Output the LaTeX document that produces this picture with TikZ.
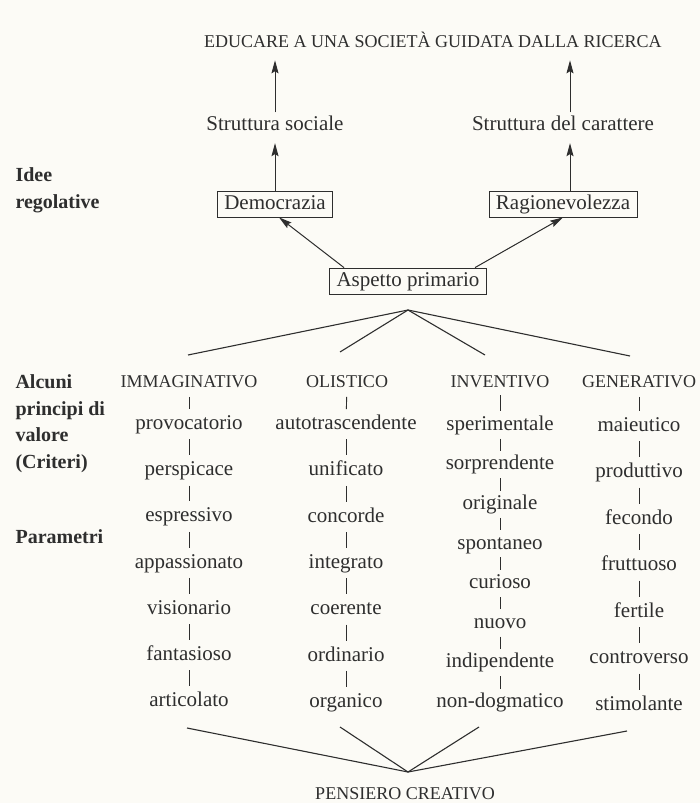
\documentclass[tikz,border=0pt]{standalone}
\usepackage{fontspec}
\setmainfont{Liberation Serif}
\usetikzlibrary{arrows.meta}
\definecolor{paper}{HTML}{FCFBF6}
\definecolor{ink}{HTML}{2E2E2E}
\tikzset{
  word/.style={font=\fontsize{21}{24}\selectfont, text height=14.7pt, text depth=4.2pt, inner sep=3pt},
  caps/.style={font=\fontsize{18}{21}\selectfont, text height=12.6pt, text depth=3.6pt, inner sep=3pt},
  box/.style={word, draw=ink, line width=0.9pt, inner xsep=7pt, inner ysep=3.5pt},
  sidenote/.style={font=\bfseries\fontsize{20}{26.5}\selectfont, align=left, anchor=base west},
  arr/.style={draw=ink, line width=1pt, -{Stealth[length=13pt, width=7pt, inset=2pt]}},
  fan/.style={draw=ink, line width=1.1pt},
  bar/.style={draw=ink, line width=0.9pt, shorten <=2.5pt, shorten >=2.5pt}
}
\begin{document}
\begin{tikzpicture}[x=1pt, y=-1pt, every node/.style={text=ink}]
  \fill[paper] (0,0) rectangle (700,803);
  \useasboundingbox (0,0) rectangle (700,803);

  \node[caps] (goal) at (433,43) {EDUCARE A UNA SOCIETÀ GUIDATA DALLA RICERCA};
  \node[word] (soc) at (275,125) {Struttura sociale};
  \node[word] (car) at (563,125) {Struttura del carattere};
  \node[box] (dem) at (275,204) {Democrazia};
  \node[box] (rag) at (563,204) {Ragionevolezza};
  \node[box] (asp) at (408,281) {Aspetto primario};

  \node[sidenote] (idee) at (12,208) {Idee\\regolative};
  \node[sidenote] (crit) at (12,468) {Alcuni\\principi di\\valore\\(Criteri)};
  \node[sidenote] (param) at (12,543) {Parametri};

  \draw[arr, shorten >=6pt] (soc.north) -- (soc.north |- goal.south);
  \draw[arr, shorten >=6pt] ([xshift=7pt]car.north) -- ([xshift=7pt]car.north |- goal.south);
  \draw[arr, shorten >=5.5pt] (dem.north) -- (soc.south);
  \draw[arr, shorten >=5.5pt] ([xshift=7pt]rag.north) -- ([xshift=7pt]car.south);
  \draw[arr] ([xshift=-64pt]asp.north) -- ([xshift=4pt]dem.south);
  \draw[arr] ([xshift=67pt]asp.north) -- (rag.south);

  \node[caps] (imm0) at (189,383) {IMMAGINATIVO};
  \node[caps] (oli0) at (347,383) {OLISTICO};
  \node[caps] (inv0) at (500,383) {INVENTIVO};
  \node[caps] (gen0) at (639,383) {GENERATIVO};

  \foreach \w [count=\i, evaluate=\i as \j using int(\i-1)] in
    {provocatorio,perspicace,espressivo,appassionato,visionario,fantasioso,articolato}{
    \node[word] (imm\i) at (189,378+46.2*\i) {\w};
    \draw[bar] (imm\j) -- (imm\i);
  }
  \foreach \w [count=\i, evaluate=\i as \j using int(\i-1)] in
    {autotrascendente,unificato,concorde,integrato,coerente,ordinario,organico}{
    \node[word] (oli\i) at (346,378+46.3*\i) {\w};
    \draw[bar] (oli\j) -- (oli\i);
  }
  \foreach \w [count=\i, evaluate=\i as \j using int(\i-1)] in
    {sperimentale,sorprendente,originale,spontaneo,curioso,nuovo,indipendente,non-dogmatico}{
    \node[word] (inv\i) at (500,385.4+39.6*\i) {\w};
    \draw[bar, shorten <=1pt, shorten >=1pt] (inv\j) -- (inv\i);
  }
  \foreach \w [count=\i, evaluate=\i as \j using int(\i-1)] in
    {maieutico,produttivo,fecondo,fruttuoso,fertile,controverso,stimolante}{
    \node[word] (gen\i) at (639,379.5+46.5*\i) {\w};
    \draw[bar] (gen\j) -- (gen\i);
  }

  \coordinate (fantop) at (408,310);
  \coordinate (imm-in) at (188,355);
  \coordinate (oli-in) at (340,352);
  \coordinate (inv-in) at (485,355);
  \coordinate (gen-in) at (630,356);
  \draw[fan] (imm-in) -- (fantop) -- (gen-in);
  \draw[fan] (oli-in) -- (fantop) -- (inv-in);

  \node[caps] (pens) at (405,795) {PENSIERO CREATIVO};
  \coordinate (fanbot) at (408,772);
  \coordinate (imm-out) at (187,728);
  \coordinate (oli-out) at (340,727);
  \coordinate (inv-out) at (479,727);
  \coordinate (gen-out) at (627,731);
  \draw[fan] (imm-out) -- (fanbot) -- (gen-out);
  \draw[fan] (oli-out) -- (fanbot) -- (inv-out);
\end{tikzpicture}
\end{document}
